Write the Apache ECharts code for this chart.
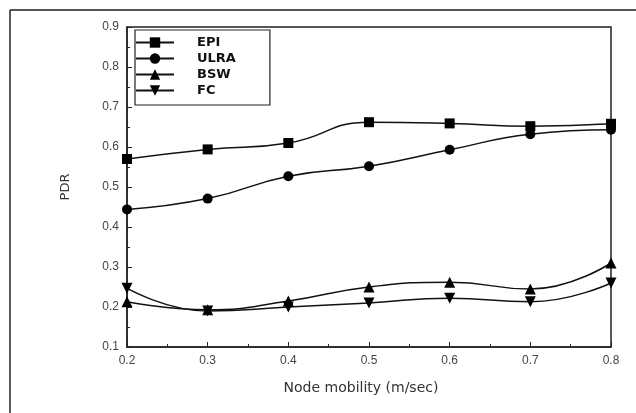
<!DOCTYPE html>
<html>
<head>
<meta charset="utf-8">
<script src="https://cdn.jsdelivr.net/npm/echarts@6/dist/echarts.min.js"></script>
<style>html,body{margin:0;padding:0;background:#fff;}#c{width:636px;height:413px;}</style>
</head>
<body>
<div id="c"></div>
<script>
const xValues = [0.2, 0.3, 0.4, 0.5, 0.6, 0.7, 0.8];
const epi  = [0.570, 0.594, 0.610, 0.662, 0.659, 0.652, 0.658];
const ulra = [0.444, 0.471, 0.527, 0.552, 0.593, 0.632, 0.643];
const bsw  = [0.213, 0.193, 0.215, 0.250, 0.262, 0.245, 0.310];
const fc   = [0.247, 0.190, 0.200, 0.210, 0.222, 0.213, 0.260];
const seriesNames = ['EPI', 'ULRA', 'BSW', 'FC'];

function pairs(arr) { return xValues.map((x, i) => [x, arr[i]]); }

const chart = echarts.init(document.getElementById('c'), null, {renderer: 'canvas'});
const common = {
  type: 'line', smooth: 0.5, color: '#000',
  lineStyle: {color: '#111', width: 1.5},
  itemStyle: {color: '#000'},
  symbolSize: 10, z: 3
};
chart.setOption({
  animation: false,
  backgroundColor: '#fff',
  grid: {left: 127, right: 25, top: 27, bottom: 66, show: true, borderColor: '#222', borderWidth: 1.5, backgroundColor: 'transparent'},
  legend: {
    orient: 'vertical', left: 135, top: 30,
    data: seriesNames,
    itemWidth: 38, itemHeight: 13, itemGap: 3,
    padding: [6, 34, 8, 0],
    borderColor: '#222', borderWidth: 1.2,
    textStyle: {fontFamily: 'DejaVu Sans', fontWeight: 'bold', fontSize: 13, color: '#111', padding: [0, 0, 0, 18], lineHeight: 12}
  },
  xAxis: {
    type: 'value', min: 0.2, max: 0.8, interval: 0.1,
    name: 'Node mobility (m/sec)', nameLocation: 'middle', nameGap: 34,
    nameTextStyle: {fontFamily: 'DejaVu Sans', fontSize: 14, color: '#333', padding: [0, 16, 0, 0]},
    axisLine: {lineStyle: {color: '#222', width: 1.5}},
    axisTick: {inside: true, length: 5, lineStyle: {color: '#222'}},
    minorTick: {show: true, splitNumber: 2, length: 3, lineStyle: {color: '#222'}},
    splitLine: {show: false},
    axisLabel: {fontFamily: 'Liberation Sans', fontSize: 12, color: '#444', margin: 8, formatter: v => v.toFixed(1)}
  },
  yAxis: {
    type: 'value', min: 0.1, max: 0.9, interval: 0.1,
    name: 'PDR', nameLocation: 'middle', nameGap: 55, nameRotate: 90,
    nameTextStyle: {fontFamily: 'DejaVu Sans', fontSize: 13, color: '#333'},
    axisLine: {show: true, lineStyle: {color: '#222', width: 1.5}},
    axisTick: {show: true, inside: true, length: 5, lineStyle: {color: '#222'}},
    minorTick: {show: true, splitNumber: 2, length: 3, lineStyle: {color: '#222'}},
    splitLine: {show: false},
    axisLabel: {fontFamily: 'Liberation Sans', fontSize: 12, color: '#444', margin: 8, formatter: v => v.toFixed(1)}
  },
  graphic: [
    {type: 'line', shape: {x1: 10, y1: 10, x2: 636, y2: 10}, style: {stroke: '#555', lineWidth: 2}},
    {type: 'line', shape: {x1: 10, y1: 10, x2: 10, y2: 413}, style: {stroke: '#222', lineWidth: 1.5}}
  ],
  series: [
    Object.assign({}, common, {name: 'EPI', data: pairs(epi), symbol: 'rect'}),
    Object.assign({}, common, {name: 'ULRA', data: pairs(ulra), symbol: 'circle'}),
    Object.assign({}, common, {name: 'BSW', data: pairs(bsw), symbol: 'triangle', symbolSize: 11}),
    Object.assign({}, common, {name: 'FC', data: pairs(fc), symbol: 'triangle', symbolSize: 11, symbolRotate: 180})
  ]
});
</script>
</body>
</html>
